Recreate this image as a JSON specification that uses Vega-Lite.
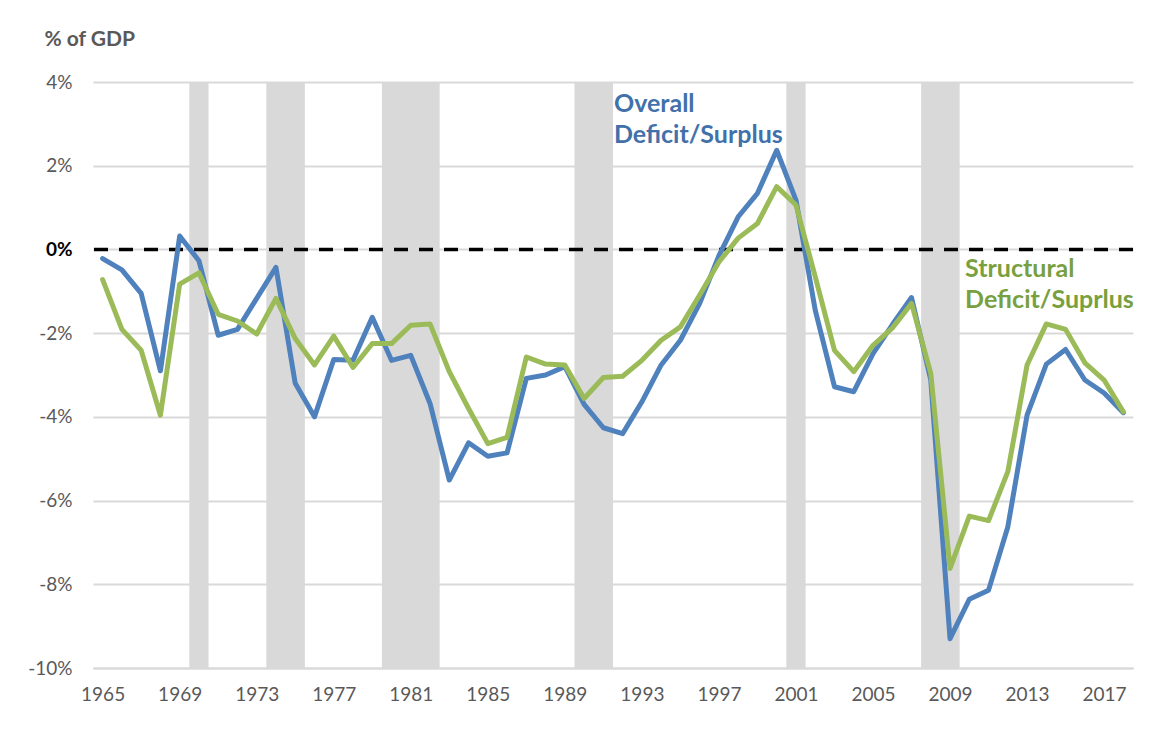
{
  "$schema": "https://vega.github.io/schema/vega-lite/v6.json",
  "width": 1040,
  "height": 586,
  "autosize": {"type": "none"},
  "padding": {"left": 93, "top": 82, "right": 21, "bottom": 72},
  "background": "white",
  "config": {
    "view": {"stroke": null},
    "font": "Lato"
  },
  "datasets": {
    "deficit": [
      {"year": 1965, "overall": -0.22, "structural": -0.72},
      {"year": 1966, "overall": -0.49, "structural": -1.91},
      {"year": 1967, "overall": -1.05, "structural": -2.41},
      {"year": 1968, "overall": -2.90, "structural": -3.96},
      {"year": 1969, "overall": 0.32, "structural": -0.83},
      {"year": 1970, "overall": -0.27, "structural": -0.56},
      {"year": 1971, "overall": -2.05, "structural": -1.55},
      {"year": 1972, "overall": -1.91, "structural": -1.71},
      {"year": 1973, "overall": -1.17, "structural": -2.02},
      {"year": 1974, "overall": -0.43, "structural": -1.17},
      {"year": 1975, "overall": -3.20, "structural": -2.13},
      {"year": 1976, "overall": -4.00, "structural": -2.76},
      {"year": 1977, "overall": -2.63, "structural": -2.07},
      {"year": 1978, "overall": -2.65, "structural": -2.82},
      {"year": 1979, "overall": -1.62, "structural": -2.25},
      {"year": 1980, "overall": -2.65, "structural": -2.25},
      {"year": 1981, "overall": -2.53, "structural": -1.81},
      {"year": 1982, "overall": -3.68, "structural": -1.78},
      {"year": 1983, "overall": -5.51, "structural": -2.92},
      {"year": 1984, "overall": -4.62, "structural": -3.80},
      {"year": 1985, "overall": -4.94, "structural": -4.64},
      {"year": 1986, "overall": -4.86, "structural": -4.49},
      {"year": 1987, "overall": -3.08, "structural": -2.57},
      {"year": 1988, "overall": -3.00, "structural": -2.74},
      {"year": 1989, "overall": -2.80, "structural": -2.76},
      {"year": 1990, "overall": -3.70, "structural": -3.56},
      {"year": 1991, "overall": -4.26, "structural": -3.06},
      {"year": 1992, "overall": -4.40, "structural": -3.03},
      {"year": 1993, "overall": -3.64, "structural": -2.65},
      {"year": 1994, "overall": -2.76, "structural": -2.17},
      {"year": 1995, "overall": -2.17, "structural": -1.85},
      {"year": 1996, "overall": -1.29, "structural": -1.09},
      {"year": 1997, "overall": -0.15, "structural": -0.30},
      {"year": 1998, "overall": 0.78, "structural": 0.27},
      {"year": 1999, "overall": 1.34, "structural": 0.62},
      {"year": 2000, "overall": 2.37, "structural": 1.50},
      {"year": 2001, "overall": 1.18, "structural": 1.06},
      {"year": 2002, "overall": -1.45, "structural": -0.65},
      {"year": 2003, "overall": -3.28, "structural": -2.41},
      {"year": 2004, "overall": -3.40, "structural": -2.92},
      {"year": 2005, "overall": -2.49, "structural": -2.29},
      {"year": 2006, "overall": -1.80, "structural": -1.88},
      {"year": 2007, "overall": -1.15, "structural": -1.29},
      {"year": 2008, "overall": -3.12, "structural": -2.96},
      {"year": 2009, "overall": -9.30, "structural": -7.62},
      {"year": 2010, "overall": -8.36, "structural": -6.37},
      {"year": 2011, "overall": -8.14, "structural": -6.48},
      {"year": 2012, "overall": -6.63, "structural": -5.31},
      {"year": 2013, "overall": -3.96, "structural": -2.76},
      {"year": 2014, "overall": -2.74, "structural": -1.78},
      {"year": 2015, "overall": -2.39, "structural": -1.91},
      {"year": 2016, "overall": -3.12, "structural": -2.71},
      {"year": 2017, "overall": -3.43, "structural": -3.12},
      {"year": 2018, "overall": -3.90, "structural": -3.88}
    ],
    "recessions": [
      {"from": 1969.5, "to": 1970.5},
      {"from": 1973.5, "to": 1975.5},
      {"from": 1979.5, "to": 1982.5},
      {"from": 1989.5, "to": 1991.5},
      {"from": 2000.5, "to": 2001.5},
      {"from": 2007.5, "to": 2009.5}
    ],
    "one": [{}]
  },
  "layer": [
    {
      "data": {"name": "recessions"},
      "mark": {"type": "rect", "color": "#d9d9d9"},
      "encoding": {
        "x": {
          "field": "from", "type": "quantitative",
          "scale": {"domain": [1964.5, 2018.5], "nice": false, "zero": false},
          "axis": {
            "values": [1965, 1969, 1973, 1977, 1981, 1985, 1989, 1993, 1997, 2001, 2005, 2009, 2013, 2017],
            "format": "d",
            "title": null,
            "grid": false,
            "ticks": false,
            "domainColor": "#d9d9d9",
            "domainWidth": 2,
            "labelColor": "#595959",
            "labelFont": "Lato",
            "labelFontSize": 19,
            "labelPadding": 17,
            "labelFlush": false,
            "labelOverlap": false
          }
        },
        "x2": {"field": "to"},
        "y": {
          "datum": 4, "type": "quantitative",
          "scale": {"domain": [-10, 4], "nice": false, "zero": false},
          "axis": {
            "values": [-10, -8, -6, -4, -2, 0, 2, 4],
            "labelExpr": "datum.value + '%'",
            "grid": true,
            "gridColor": "#d9d9d9",
            "gridWidth": 2,
            "domain": false,
            "ticks": false,
            "labelFont": "Lato",
            "labelFontSize": 19,
            "labelPadding": 21,
            "labelColor": {"condition": {"test": "datum.value === 0", "value": "#000000"}, "value": "#595959"},
            "labelFontWeight": {"condition": {"test": "datum.value === 0", "value": "bold"}, "value": "normal"},
            "title": "% of GDP",
            "titleAngle": 0,
            "titleAlign": "left",
            "titleBaseline": "alphabetic",
            "titleX": -49,
            "titleY": -37,
            "titleFont": "Lato",
            "titleFontSize": 21,
            "titleFontWeight": "bold",
            "titleColor": "#595959"
          }
        },
        "y2": {"datum": -10}
      }
    },
    {
      "data": {"name": "one"},
      "mark": {"type": "rule", "color": "#000000", "strokeWidth": 3.5, "strokeDash": [14, 11]},
      "encoding": {"y": {"datum": 0, "type": "quantitative"}}
    },
    {
      "data": {"name": "deficit"},
      "mark": {"type": "line", "color": "#4f81bd", "strokeWidth": 5, "strokeJoin": "round", "strokeCap": "round"},
      "encoding": {
        "x": {"field": "year", "type": "quantitative"},
        "y": {"field": "overall", "type": "quantitative"}
      }
    },
    {
      "data": {"name": "deficit"},
      "mark": {"type": "line", "color": "#9bbb59", "strokeWidth": 5, "strokeJoin": "round", "strokeCap": "round"},
      "encoding": {
        "x": {"field": "year", "type": "quantitative"},
        "y": {"field": "structural", "type": "quantitative"}
      }
    },
    {
      "data": {"name": "one"},
      "mark": {"type": "text", "text": ["Overall", "Deficit/Surplus"], "align": "left", "baseline": "alphabetic", "font": "Lato", "fontSize": 25, "fontWeight": "bold", "color": "#4271aa", "lineHeight": 31.5},
      "encoding": {
        "x": {"datum": 1991.55, "type": "quantitative"},
        "y": {"datum": 3.29, "type": "quantitative"}
      }
    },
    {
      "data": {"name": "one"},
      "mark": {"type": "text", "text": ["Structural", "Deficit/Suprlus"], "align": "left", "baseline": "alphabetic", "font": "Lato", "fontSize": 25, "fontWeight": "bold", "color": "#78a03e", "lineHeight": 31},
      "encoding": {
        "x": {"datum": 2009.78, "type": "quantitative"},
        "y": {"datum": -0.655, "type": "quantitative"}
      }
    }
  ]
}
